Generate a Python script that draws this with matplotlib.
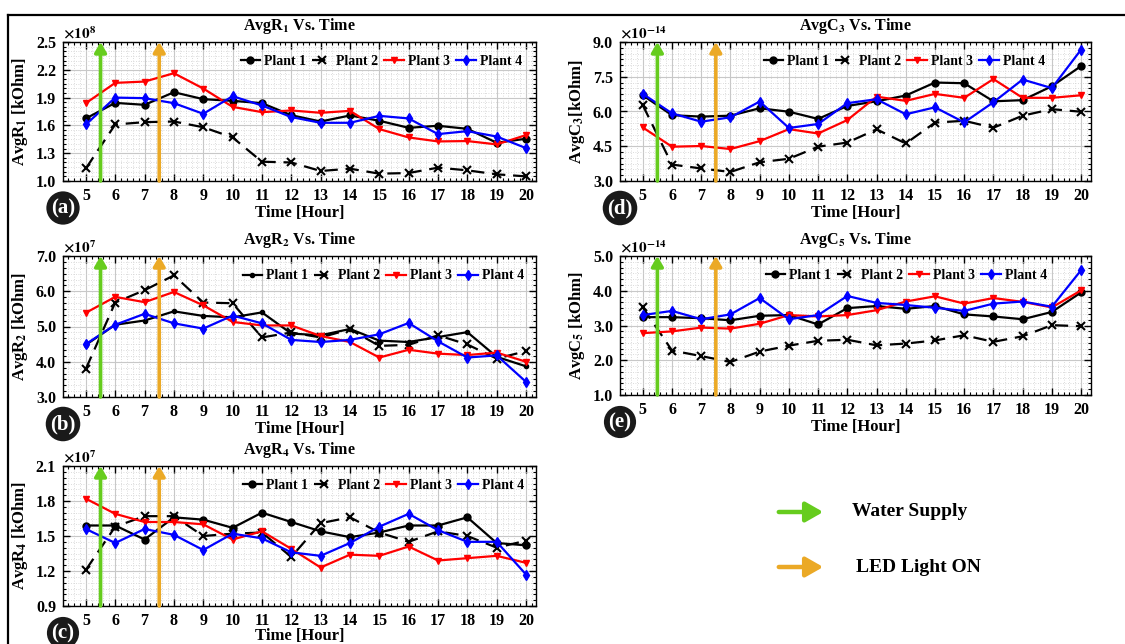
import matplotlib
matplotlib.use("Agg")
import numpy as np
import matplotlib.pyplot as plt
from matplotlib.ticker import AutoMinorLocator, MultipleLocator, FormatStrFormatter, FixedLocator
from matplotlib.lines import Line2D

plt.rcParams['font.family'] = ['Liberation Serif', 'DejaVu Serif']
plt.rcParams['font.weight'] = 'bold'
plt.rcParams['mathtext.fontset'] = 'stix'

hours = list(range(5, 21))

# (a) AvgR1 [x1e8]
r1_p1 = [1.675, 1.843, 1.822, 1.958, 1.883, 1.865, 1.84, 1.71, 1.642, 1.707, 1.65, 1.574, 1.596, 1.563, 1.413, 1.456]
r1_p2 = [1.136, 1.61, 1.635, 1.642, 1.58, 1.47, 1.208, 1.2, 1.108, 1.133, 1.079, 1.086, 1.144, 1.115, 1.072, 1.05]
r1_p3 = [1.84, 2.059, 2.073, 2.163, 1.998, 1.80, 1.743, 1.761, 1.736, 1.757, 1.56, 1.47, 1.427, 1.431, 1.395, 1.495]
r1_p4 = [1.61, 1.90, 1.894, 1.84, 1.725, 1.915, 1.815, 1.69, 1.628, 1.628, 1.703, 1.675, 1.506, 1.538, 1.48, 1.355]

# (b) AvgR2 [x1e7]
r2_p1 = [4.48, 5.05, 5.17, 5.43, 5.30, 5.26, 5.40, 4.80, 4.75, 4.93, 4.60, 4.56, 4.70, 4.84, 4.14, 3.87]
r2_p2 = [3.80, 5.68, 6.03, 6.45, 5.68, 5.66, 4.69, 4.83, 4.69, 4.92, 4.45, 4.48, 4.75, 4.49, 4.09, 4.30]
r2_p3 = [5.39, 5.84, 5.69, 5.98, 5.60, 5.13, 5.03, 5.03, 4.73, 4.56, 4.12, 4.34, 4.23, 4.19, 4.26, 4.00]
r2_p4 = [4.50, 5.05, 5.36, 5.09, 4.94, 5.31, 5.09, 4.62, 4.56, 4.62, 4.78, 5.10, 4.58, 4.12, 4.18, 3.43]

# (c) AvgR4 [x1e7]
r4_p1 = [1.59, 1.59, 1.47, 1.66, 1.64, 1.57, 1.70, 1.62, 1.54, 1.49, 1.53, 1.59, 1.59, 1.66, 1.44, 1.42]
r4_p2 = [1.21, 1.58, 1.67, 1.67, 1.50, 1.52, 1.53, 1.32, 1.61, 1.66, 1.53, 1.45, 1.54, 1.50, 1.40, 1.46]
r4_p3 = [1.82, 1.69, 1.62, 1.62, 1.60, 1.47, 1.54, 1.39, 1.23, 1.34, 1.33, 1.41, 1.29, 1.31, 1.33, 1.27]
r4_p4 = [1.56, 1.44, 1.56, 1.51, 1.38, 1.52, 1.48, 1.36, 1.33, 1.44, 1.58, 1.69, 1.55, 1.45, 1.45, 1.17]

# (d) AvgC3 [x1e-14]
c3_p1 = [6.70, 5.84, 5.78, 5.82, 6.14, 5.99, 5.68, 6.24, 6.44, 6.69, 7.25, 7.22, 6.44, 6.49, 7.09, 7.96]
c3_p2 = [6.27, 3.71, 3.54, 3.39, 3.81, 3.96, 4.48, 4.66, 5.23, 4.62, 5.52, 5.60, 5.30, 5.82, 6.10, 5.99]
c3_p3 = [5.31, 4.48, 4.51, 4.38, 4.72, 5.24, 5.05, 5.63, 6.64, 6.46, 6.76, 6.59, 7.40, 6.59, 6.59, 6.70]
c3_p4 = [6.76, 5.92, 5.56, 5.75, 6.43, 5.29, 5.46, 6.36, 6.53, 5.88, 6.18, 5.53, 6.40, 7.38, 7.01, 8.67]

# (e) AvgC5 [x1e-14]
c5_p1 = [3.24, 3.24, 3.21, 3.15, 3.28, 3.30, 3.03, 3.50, 3.56, 3.48, 3.56, 3.32, 3.26, 3.18, 3.39, 3.95]
c5_p2 = [3.52, 2.28, 2.12, 1.95, 2.25, 2.42, 2.56, 2.59, 2.43, 2.48, 2.57, 2.72, 2.53, 2.69, 3.01, 2.98]
c5_p3 = [2.78, 2.83, 2.94, 2.91, 3.05, 3.30, 3.26, 3.30, 3.44, 3.69, 3.84, 3.63, 3.79, 3.68, 3.52, 4.01]
c5_p4 = [3.30, 3.42, 3.18, 3.32, 3.79, 3.18, 3.30, 3.85, 3.65, 3.59, 3.51, 3.42, 3.63, 3.69, 3.54, 4.59]

plant_names = ["Plant 1", "Plant 2", "Plant 3", "Plant 4"]
water_hour = 5.5
led_hour = 7.5

GREEN = "#66CC1E"
ORANGE = "#EBA926"

W, H = 1125, 644
fig = plt.figure(figsize=(W / 100, H / 100), dpi=100)


def px_axes(left, top, right, bottom):
    return fig.add_axes([left / W, 1 - bottom / H, (right - left) / W, (bottom - top) / H])


panels = [
    ((63, 42, 536, 181), [r1_p1, r1_p2, r1_p3, r1_p4], (1.0, 2.5), 0.3,
     r"AvgR$_{\mathbf{1}}$ Vs. Time", r"AvgR$_{\mathbf{1}}$ [kOhm]", r"$\times10^{8}$", "(a)", "o", 522),
    ((63, 256, 536, 397), [r2_p1, r2_p2, r2_p3, r2_p4], (3.0, 7.0), 1.0,
     r"AvgR$_{\mathbf{2}}$ Vs. Time", r"AvgR$_{\mathbf{2}}$ [kOhm]", r"$\times10^{7}$", "(b)", ".", 524),
    ((63, 466, 536, 606), [r4_p1, r4_p2, r4_p3, r4_p4], (0.9, 2.1), 0.3,
     r"AvgR$_{\mathbf{4}}$ Vs. Time", r"AvgR$_{\mathbf{4}}$ [kOhm]", r"$\times10^{7}$", "(c)", "o", 524),
    ((620, 42, 1091, 181), [c3_p1, c3_p2, c3_p3, c3_p4], (3.0, 9.0), 1.5,
     r"AvgC$_{\mathbf{3}}$ Vs. Time", r"AvgC$_{\mathbf{3}}$[kOhm]", r"$\times10^{-14}$", "(d)", "o", 1045),
    ((620, 256, 1091, 395), [c5_p1, c5_p2, c5_p3, c5_p4], (1.0, 5.0), 1.0,
     r"AvgC$_{\mathbf{5}}$ Vs. Time", r"AvgC$_{\mathbf{5}}$ [kOhm]", r"$\times10^{-14}$", "(e)", "o", 1047),
]

for box, series, ylim, ystep, title, ylabel, expo, letter, m1, leg_right in panels:
    ax = px_axes(*box)
    left, top, right, bottom = box
    styles = [
        dict(color="black", ls="-", marker=m1, ms=5 if m1 == "o" else 6),
        dict(color="black", ls=(0, (6, 3.5)), marker="x", ms=6, mew=1.5),
        dict(color="red", ls="-", marker="v", ms=5),
        dict(color="blue", ls="-", marker="d", ms=5),
    ]
    for vals, name, st in zip(series, plant_names, styles):
        ax.plot(hours, vals, lw=1.6, label=name, **st)
    ax.set_xlim(4.22, 20.34)
    ax.set_ylim(*ylim)
    ax.xaxis.set_major_locator(MultipleLocator(1))
    yt = np.arange(ylim[0], ylim[1] + ystep / 2, ystep)
    ax.yaxis.set_major_locator(FixedLocator(yt))
    ax.yaxis.set_major_formatter(FormatStrFormatter("%.1f"))
    ax.xaxis.set_minor_locator(AutoMinorLocator(5))
    ax.yaxis.set_minor_locator(AutoMinorLocator(6))
    ax.grid(True, which="major", color="#c8c8c8", lw=0.8)
    ax.grid(True, which="minor", color="#d0d0d0", lw=0.6, ls=(0, (1, 2)))
    ax.set_axisbelow(True)
    ax.tick_params(which="both", direction="in", top=True, right=True)
    ax.tick_params(which="major", length=5, width=1, labelsize=11.5, pad=5)
    ax.tick_params(which="minor", length=2.5, width=0.8)
    for lab in ax.get_xticklabels() + ax.get_yticklabels():
        lab.set_fontweight("bold")
    for sp in ax.spines.values():
        sp.set_linewidth(1.0)
    ax.set_title(title, fontsize=11.5, fontweight="bold", pad=9)
    ax.set_ylabel(ylabel, fontsize=12, fontweight="bold", labelpad=4)
    ax.set_xlabel("Time [Hour]", fontsize=12, fontweight="bold",
                  labelpad=-1 if letter == "(c)" else 1)
    ax.text(0.0, 1.005, expo, transform=ax.transAxes, ha="left", va="bottom",
            fontsize=11, fontweight="normal")
    y0, y1 = ylim
    for xv, col in ((water_hour, GREEN), (led_hour, ORANGE)):
        ax.annotate("", xy=(xv, y1), xytext=(xv, y0),
                    arrowprops=dict(arrowstyle="-|>,head_width=0.35,head_length=0.6",
                                    color=col, lw=2.6, shrinkA=0, shrinkB=0),
                    annotation_clip=False, zorder=5)
    anchor_x = (leg_right - left) / (right - left)
    ax.legend(loc="upper right", bbox_to_anchor=(anchor_x, 0.905), ncol=4, frameon=False,
              handlelength=1.4, handletextpad=0.3, columnspacing=0.45,
              borderaxespad=0.0, borderpad=0.0,
              prop=dict(weight="bold", size=10))
    fig.text(left / W, 1 - (bottom + 27) / H, letter, ha="center", va="center",
             color="white", fontsize=15, fontweight="bold",
             bbox=dict(boxstyle="circle,pad=0.22", fc="#1a1a1a", ec="none"))

for ypx, col, txt, txpx in ((512, GREEN, "Water Supply", 852),
                            (567, ORANGE, "LED Light ON", 856)):
    fig.add_artist(matplotlib.patches.FancyArrowPatch(
        (776 / W, 1 - ypx / H), (826 / W, 1 - ypx / H), transform=fig.transFigure,
        arrowstyle="-|>,head_width=4,head_length=7", color=col, lw=3.2,
        mutation_scale=1.5))
    fig.text(txpx / W, 1 - ypx / H, txt, ha="left", va="center",
             fontsize=14, fontweight="bold")

fig.add_artist(Line2D([8 / W, 1.0], [1 - 15 / H, 1 - 15 / H], transform=fig.transFigure,
                      color="black", lw=1.6))
fig.add_artist(Line2D([8 / W, 8 / W], [0, 1 - 15 / H], transform=fig.transFigure,
                      color="black", lw=1.6))

fig.savefig("out.png", dpi=100)
